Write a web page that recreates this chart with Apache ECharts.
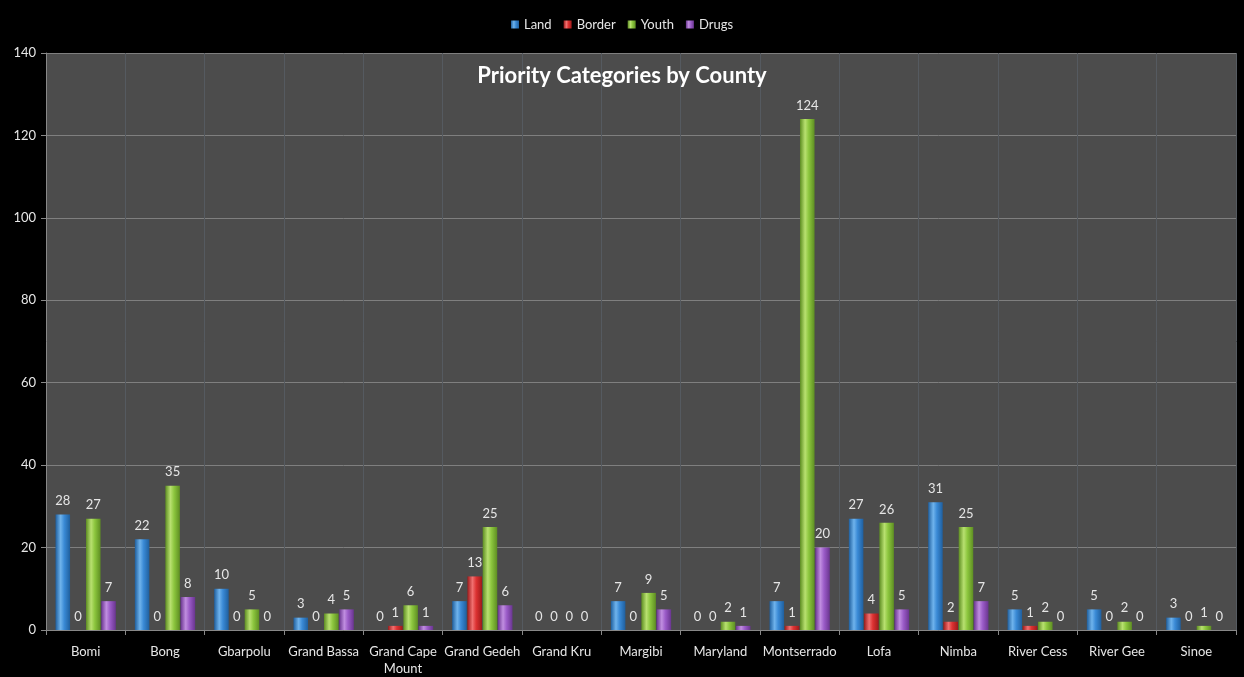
<!DOCTYPE html>
<html><head><meta charset="utf-8">
<script src="https://cdn.jsdelivr.net/npm/echarts@6/dist/echarts.min.js"></script>
<style>html,body{margin:0;padding:0;background:#000;overflow:hidden;}#c{width:1244px;height:677px;}</style>
</head><body><div id="c"></div>
<script>
const counties = ["Bomi","Bong","Gbarpolu","Grand Bassa","Grand Cape\nMount","Grand Gedeh","Grand Kru","Margibi","Maryland","Montserrado","Lofa","Nimba","River Cess","River Gee","Sinoe"];
const land   = [28,22,10,3,0,7,0,7,0,7,27,31,5,5,3];
const border = [0,0,0,0,1,13,0,0,0,1,4,2,1,0,0];
const youth  = [27,35,5,4,6,25,0,9,2,124,26,25,2,2,1];
const drugs  = [7,8,0,5,1,6,0,5,1,20,5,7,0,0,0];

function grad(dark, mid, light){
  return new echarts.graphic.LinearGradient(0,0,1,0,[
    {offset:0,color:dark},{offset:0.35,color:light},{offset:0.6,color:mid},{offset:1,color:dark}
  ]);
}
const F = 'Lato, "Open Sans", sans-serif';
function mk(name, data, dark, mid, light){
  return {
    name, type:'bar',
    data: data.map(v=> v===0 ? {value:v, itemStyle:{color:'rgba(0,0,0,0)'}} : {value:v}),
    barGap:'5%', barCategoryGap:'24%',
    itemStyle:{color:grad(dark,mid,light)},
    label:{show:true, position:'top', color:'#e6e6e6', fontSize:13, fontFamily:F, distance:7}
  };
}
const chart = echarts.init(document.getElementById('c'));
chart.setOption({
  backgroundColor:'#000',
  animation:false,
  title:{text:'Priority Categories by County', left:'center', top:60,
    textStyle:{color:'#fff', fontSize:22, fontWeight:'bold', fontFamily:F}},
  legend:{top:13, left:'center', itemWidth:8, itemHeight:8, itemGap:12, icon:'rect',
    textStyle:{color:'#e6e6e6', fontSize:13, fontFamily:F},
    data:['Land','Border','Youth','Drugs']},
  grid:{left:46, right:8, top:53, bottom:39, show:true, backgroundColor:'#4c4c4c', borderWidth:0},
  xAxis:{type:'category', data:counties,
    axisLine:{lineStyle:{color:'#888'}},
    axisTick:{show:true, lineStyle:{color:'#888'}, length:5},
    axisLabel:{color:'#e6e6e6', fontSize:13, fontFamily:F, interval:0, margin:13, lineHeight:17},
    splitLine:{show:true, lineStyle:{color:'#555a60', width:1}}},
  yAxis:{type:'value', min:0, max:140, interval:20,
    axisLine:{show:true, lineStyle:{color:'#888'}},
    axisTick:{show:true, length:5, lineStyle:{color:'#888'}},
    axisLabel:{color:'#e6e6e6', fontSize:13, fontFamily:F, margin:10},
    splitLine:{show:true, lineStyle:{color:'#7f7f7f', width:1}}},
  series:[
    mk('Land', land, '#1f5f9e', '#3a8ad6', '#6fb3ec'),
    mk('Border', border, '#9e1a1a', '#dd3232', '#f07070'),
    mk('Youth', youth, '#5e8e22', '#8cc63e', '#b8e070'),
    mk('Drugs', drugs, '#6a3590', '#9b5cc8', '#c08ee0')
  ]
});
</script></body></html>
